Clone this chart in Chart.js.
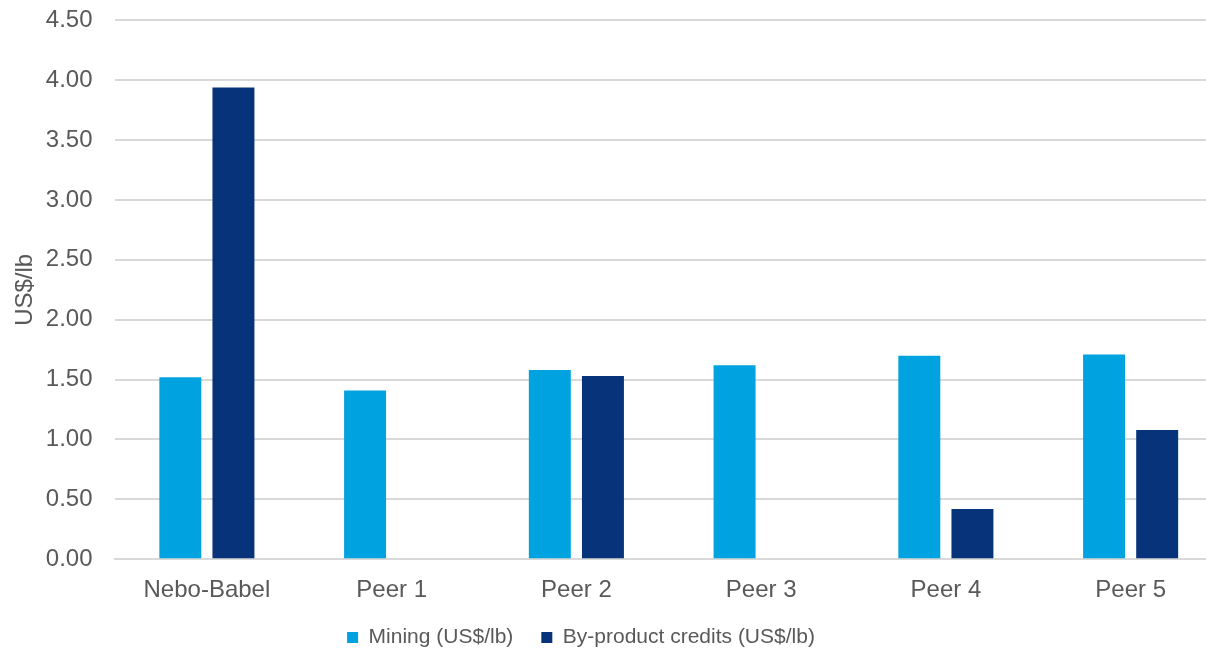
<!DOCTYPE html>
<html>
<head>
<meta charset="utf-8">
<script src="https://cdn.jsdelivr.net/npm/chart.js@4"></script>
<style>
  html, body { margin: 0; padding: 0; background: #fff; overflow: hidden; }
  #wrap { width: 1226px; height: 668px; margin-top: -16px; }
</style>
</head>
<body>
<div id="wrap"><canvas id="chart" width="1226" height="668"></canvas></div>
<script>
const categories = ["Nebo-Babel", "Peer 1", "Peer 2", "Peer 3", "Peer 4", "Peer 5"];
const mining = [1.52, 1.41, 1.58, 1.62, 1.70, 1.71];
const byProduct = [3.94, 0, 1.53, 0, 0.42, 1.08];
const seriesNames = ["Mining (US$/lb)", "By-product credits (US$/lb)"];
const yTicks = [0, 0.5, 1, 1.5, 2, 2.5, 3, 3.5, 4, 4.5];

const textColor = "#595959";
const fontFamily = "'Liberation Sans', Arial, sans-serif";
const font = { family: fontFamily, size: 24 };

// the legend in the picture sits left of the canvas centre
const shiftLegend = {
  id: "shiftLegend",
  afterLayout(chart) {
    chart.legend.left -= 36;
    chart.legend.right -= 36;
  },
};

const ctx = document.getElementById("chart").getContext("2d");
const chart = new Chart(ctx, {
  type: "bar",
  data: {
    labels: categories,
    datasets: [
      {
        label: seriesNames[0],
        data: mining,
        backgroundColor: "#00a3e0",
        barPercentage: 0.79,
        categoryPercentage: 0.575,
      },
      {
        label: seriesNames[1],
        data: byProduct,
        backgroundColor: "#06337a",
        barPercentage: 0.79,
        categoryPercentage: 0.575,
      },
    ],
  },
  options: {
    responsive: false,
    animation: false,
    layout: { padding: { top: 0, right: 3, left: 11, bottom: -6 } },
    scales: {
      x: {
        grid: { display: false },
        border: { color: "#d9d9d9", width: 2 },
        ticks: { color: textColor, font: font, padding: 9 },
        afterFit: (scale) => {
          scale.height -= 15;
        },
      },
      y: {
        min: 0,
        max: 4.5,
        afterBuildTicks: (axis) => {
          axis.ticks = yTicks.map((v) => ({ value: v }));
        },
        grid: { color: "#d9d9d9", lineWidth: 2, drawTicks: false },
        border: { display: false },
        ticks: {
          color: textColor,
          font: font,
          padding: 22,
          callback: (v) => Number(v).toFixed(2),
        },
        title: {
          display: true,
          text: "US$/lb",
          color: textColor,
          font: font,
          padding: { top: 0, bottom: -16 },
        },
      },
    },
    plugins: {
      legend: {
        position: "bottom",
        labels: {
          color: textColor,
          font: { family: fontFamily, size: 21 },
          boxWidth: 11,
          boxHeight: 11,
          padding: 28,
        },
      },
      tooltip: { enabled: false },
    },
  },
  plugins: [shiftLegend],
});
</script>
</body>
</html>
